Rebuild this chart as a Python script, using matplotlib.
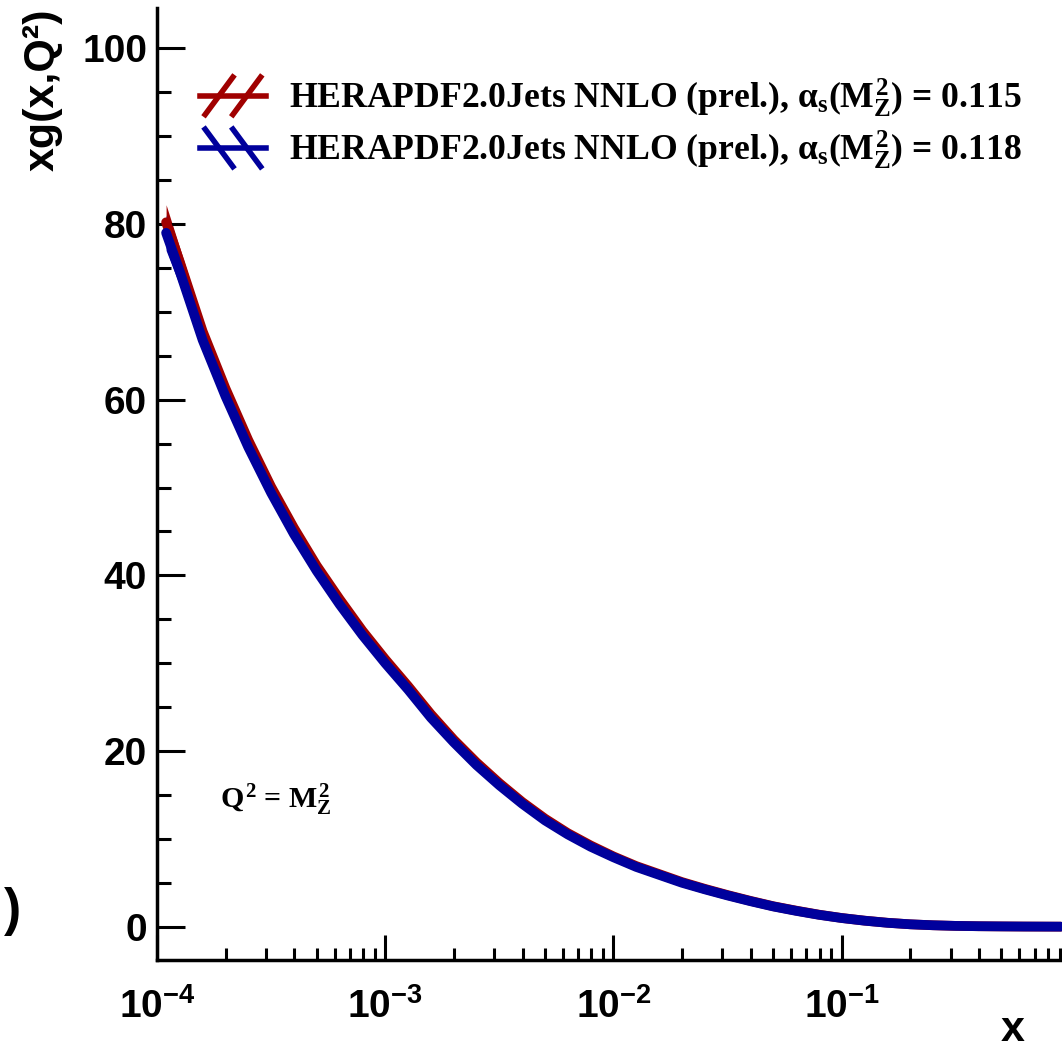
import matplotlib
matplotlib.use("Agg")
import matplotlib.pyplot as plt
import numpy as np
from matplotlib.ticker import MultipleLocator, LogLocator, FuncFormatter, NullFormatter
from matplotlib.legend_handler import HandlerBase
from matplotlib.lines import Line2D

plt.rcParams['font.family'] = ['Liberation Sans', 'DejaVu Sans']
plt.rcParams['font.weight'] = 'bold'
plt.rcParams['mathtext.fontset'] = 'custom'
plt.rcParams['mathtext.rm'] = 'Liberation Serif:bold'
plt.rcParams['mathtext.it'] = 'Liberation Serif:bold'
plt.rcParams['mathtext.bf'] = 'Liberation Serif:bold'
plt.rcParams['mathtext.sf'] = 'Liberation Sans:bold'

# gluon density xg(x, Q^2 = M_Z^2)
log_x = [-3.96, -3.90, -3.80, -3.70, -3.60, -3.50, -3.40, -3.30, -3.20, -3.10,
         -3.00, -2.90, -2.80, -2.70, -2.60, -2.50, -2.40, -2.30, -2.20, -2.10,
         -2.00, -1.90, -1.80, -1.70, -1.60, -1.50, -1.40, -1.30, -1.20, -1.10,
         -1.00, -0.90, -0.80, -0.70, -0.60, -0.50, -0.40, -0.30, -0.20, -0.10, -0.04]
xg_118 = [79.0, 74.6, 66.8, 60.4, 54.6, 49.4, 44.7, 40.5, 36.7, 33.2,
          30.0, 27.0, 23.8, 21.0, 18.4, 16.1, 14.0, 12.1, 10.5, 9.1,
          7.9, 6.8, 5.9, 5.0, 4.25, 3.55, 2.9, 2.3, 1.8, 1.35,
          0.98, 0.68, 0.44, 0.27, 0.16, 0.09, 0.05, 0.03, 0.015, 0.007, 0.003]
xg_115 = [80.2, 75.7, 67.8, 61.3, 55.4, 50.1, 45.4, 41.1, 37.3, 33.7,
          30.45, 27.4, 24.2, 21.3, 18.7, 16.35, 14.2, 12.3, 10.65, 9.25,
          8.0, 6.9, 5.99, 5.08, 4.31, 3.6, 2.94, 2.33, 1.83, 1.37,
          0.99, 0.69, 0.45, 0.27, 0.16, 0.09, 0.05, 0.03, 0.015, 0.007, 0.003]
xg_unc = [2.0, 1.6, 1.2, 1.0, 0.85, 0.75, 0.65, 0.55, 0.5, 0.45,
          0.4, 0.35, 0.3, 0.27, 0.24, 0.2, 0.18, 0.16, 0.14, 0.12,
          0.1, 0.09, 0.08, 0.07, 0.06, 0.05, 0.05, 0.04, 0.04, 0.03,
          0.03, 0.02, 0.02, 0.02, 0.01, 0.01, 0.01, 0.01, 0.01, 0.01, 0.01]

labels = [r'HERAPDF2.0Jets NNLO (prel.), $\alpha_{s}(M_{Z}^{2})$ = 0.115',
          r'HERAPDF2.0Jets NNLO (prel.), $\alpha_{s}(M_{Z}^{2})$ = 0.118']
red = '#a00000'
blue = '#00009c'

x = 10 ** np.array(log_x)
b = np.array(xg_118)
r = np.array(xg_115)
u = np.array(xg_unc)

fig = plt.figure(figsize=(10.62, 10.55), dpi=100)
ax = fig.add_axes([0.1478, 0.0900, 0.8597, 0.9024])

ax.fill_between(x, r - u, r + u, color=red, lw=0)
ax.plot(x, r, color=red, lw=7, solid_capstyle='round', solid_joinstyle='round')
ax.fill_between(x, b - u, b + u, color=blue, lw=0)
ax.plot(x, b, color=blue, lw=7, solid_capstyle='round', solid_joinstyle='round')

ax.set_xscale('log')
ax.set_xlim(1e-4, 1)
ax.set_ylim(-3.8, 104.6)

ax.yaxis.set_major_locator(MultipleLocator(20))
ax.yaxis.set_minor_locator(MultipleLocator(5))
ax.xaxis.set_major_locator(LogLocator(base=10, numticks=10))
ax.xaxis.set_minor_locator(LogLocator(base=10, subs=np.arange(2, 10), numticks=20))
ax.xaxis.set_minor_formatter(NullFormatter())


def xfmt(v, pos):
    e = int(round(np.log10(v)))
    if e == 0:
        return r'$\mathsf{1}$'
    return r'$\mathsf{10^{%d}}$' % e


ax.xaxis.set_major_formatter(FuncFormatter(xfmt))

ax.tick_params(axis='both', which='both', direction='in', width=2.2, labelsize=28)
ax.tick_params(axis='y', which='major', length=20, pad=7)
ax.tick_params(axis='y', which='minor', length=10)
ax.tick_params(axis='x', which='major', length=18, pad=20)
ax.tick_params(axis='x', which='minor', length=9)
for lab in ax.get_yticklabels():
    lab.set_fontweight('bold')
for s in ['left', 'bottom', 'right']:
    ax.spines[s].set_linewidth(2.5)
ax.spines['top'].set_visible(False)

ax.set_ylabel('xg(x,Q²)', fontsize=31, fontweight='bold', loc='top')
ax.yaxis.set_label_coords(-0.103, 1.0)
fig.text(1013 / 1062, 5 / 1055, 'x', fontsize=31, fontweight='bold', ha='center', va='bottom')
fig.text(0.004, (1055 - 911) / 1055, ')', fontsize=37, fontweight='bold', ha='left', va='center')

ax.text(0.069, 0.160, r'$Q^{2}$ = $M_{Z}^{2}$', transform=ax.transAxes, fontsize=21.5,
        family='Liberation Serif', fontweight='bold', va='baseline')


class BandHandler(HandlerBase):
    def __init__(self, color, flip):
        super().__init__()
        self.color = color
        self.flip = flip

    def create_artists(self, legend, orig_handle, xdescent, ydescent, width, height, fontsize, trans):
        x0 = -xdescent
        y0 = -ydescent - 0.25 * height
        y1 = height - ydescent + 0.25 * height
        ym = (y0 + y1) / 2
        arts = [Line2D([x0, x0 + width], [ym, ym], color=self.color, lw=4, transform=trans)]
        for f in (0.08, 0.5):
            xa = x0 + f * width
            xb = xa + 0.42 * width
            ys = [y1, y0] if self.flip else [y0, y1]
            arts.append(Line2D([xa, xb], ys, color=self.color, lw=4, transform=trans))
        return arts


h1 = Line2D([], [])
h2 = Line2D([], [])
leg = ax.legend([h1, h2], labels, loc='upper left', bbox_to_anchor=(0.047, 0.928),
                handler_map={h1: BandHandler(red, False), h2: BandHandler(blue, True)},
                frameon=False, borderpad=0, borderaxespad=0, handlelength=1.85,
                handletextpad=0.64, labelspacing=0.27,
                prop={'family': 'Liberation Serif', 'weight': 'bold', 'size': 25.7})

fig.savefig('out.png', dpi=100)
